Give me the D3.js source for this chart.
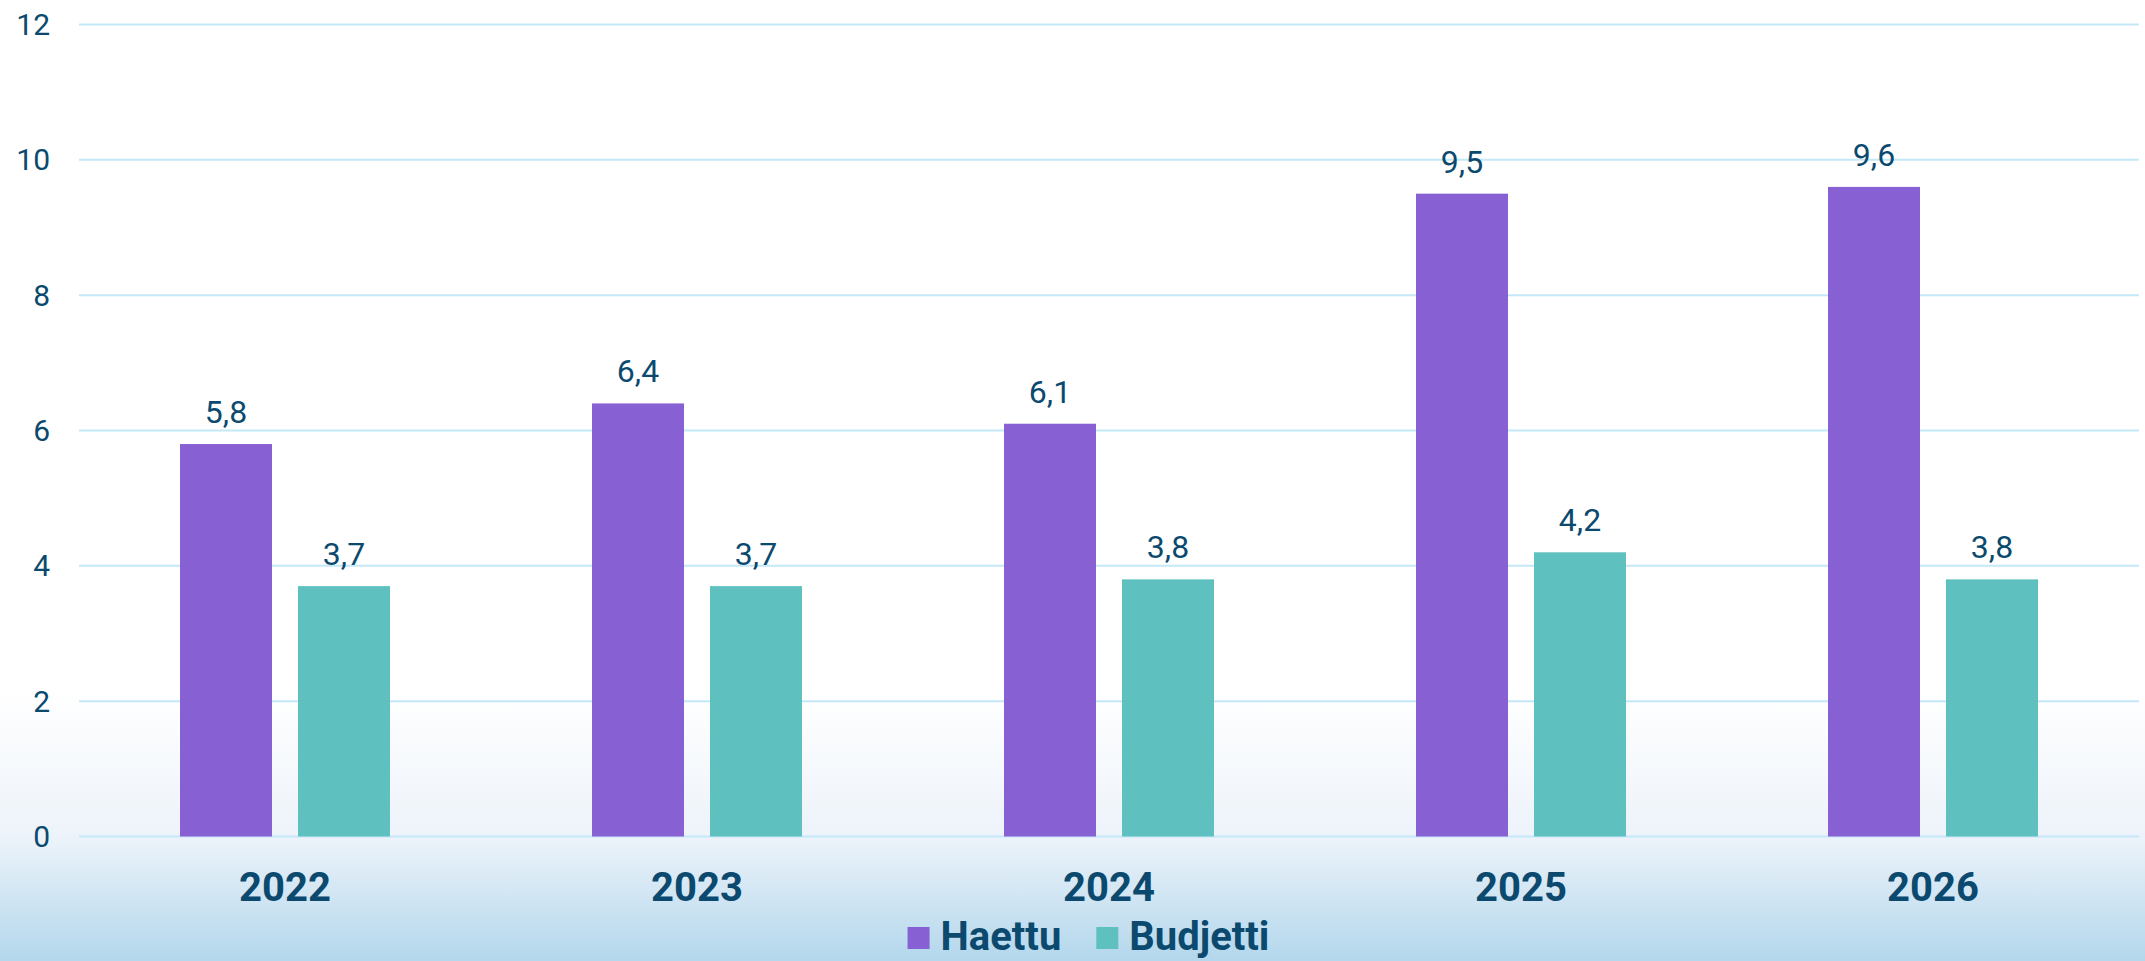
<!DOCTYPE html>
<html>
<head>
<meta charset="utf-8">
<script src="https://cdn.jsdelivr.net/npm/d3@7"></script>
<style>
  html, body { margin: 0; padding: 0; background: #fff; }
  svg { display: block; font-family: Roboto, "Noto Sans", sans-serif; }
</style>
</head>
<body>
<svg id="chart" width="2145" height="961"></svg>
<script>
const years = ["2022", "2023", "2024", "2025", "2026"];
const seriesNames = ["Haettu", "Budjetti"];
const haettu = [5.8, 6.4, 6.1, 9.5, 9.6];
const budjetti = [3.7, 3.7, 3.8, 4.2, 3.8];
const yTicks = [0, 2, 4, 6, 8, 10, 12];
const colors = ["#8760d3", "#5ec0bf"];

const W = 2145, H = 961;
const textColor = "#0b4a6e";
const gridColor = "#c4e8f8";
const svg = d3.select("#chart");

// background gradient
const defs = svg.append("defs");
const grad = defs.append("linearGradient").attr("id", "bg").attr("x1", 0).attr("y1", 0).attr("x2", 0).attr("y2", 1);
grad.append("stop").attr("offset", "0.72").attr("stop-color", "#ffffff");
grad.append("stop").attr("offset", "0.87").attr("stop-color", "#edf3fa");
grad.append("stop").attr("offset", "1").attr("stop-color", "#b3d7ec");
svg.append("rect").attr("width", W).attr("height", H).attr("fill", "url(#bg)");

const x0 = d3.scaleBand().domain(years).range([79, 2139]).paddingInner(0).paddingOuter(0);
const x1 = d3.scaleBand().domain(seriesNames).range([0, 210]).paddingInner(26 / 118).paddingOuter(0);
const y = d3.scaleLinear().domain([0, 12]).range([836.5, 24.5]);

// gridlines
svg.append("g").selectAll("line").data(yTicks).join("line")
  .attr("x1", 79).attr("x2", 2139)
  .attr("y1", d => y(d)).attr("y2", d => y(d))
  .attr("stroke", gridColor).attr("stroke-width", 2);

// y tick labels
svg.append("g").selectAll("text").data(yTicks).join("text")
  .attr("x", 50).attr("y", d => y(d)).attr("dy", "0.35em")
  .attr("text-anchor", "end").attr("font-size", 30).attr("fill", textColor)
  .text(d => d);

const fmt = v => d3.format(".1f")(v).replace(".", ",");
const data = years.map((yr, i) => ({ year: yr, vals: [
  { name: seriesNames[0], v: haettu[i], c: colors[0] },
  { name: seriesNames[1], v: budjetti[i], c: colors[1] }
]}));

const groups = svg.append("g").selectAll("g").data(data).join("g")
  .attr("transform", d => `translate(${x0(d.year) + (x0.bandwidth() - 210) / 2},0)`);

groups.selectAll("rect").data(d => d.vals).join("rect")
  .attr("x", d => x1(d.name)).attr("width", x1.bandwidth())
  .attr("y", d => y(d.v)).attr("height", d => y(0) - y(d.v))
  .attr("fill", d => d.c);

groups.selectAll("text.val").data(d => d.vals).join("text")
  .attr("class", "val")
  .attr("x", d => x1(d.name) + x1.bandwidth() / 2)
  .attr("y", d => y(d.v) - 21)
  .attr("text-anchor", "middle").attr("font-size", 32).attr("fill", textColor)
  .text(d => fmt(d.v));

// x axis labels
svg.append("g").selectAll("text").data(years).join("text")
  .attr("x", d => x0(d) + x0.bandwidth() / 2).attr("y", 901)
  .attr("text-anchor", "middle").attr("font-size", 40).attr("font-weight", "bold")
  .attr("fill", textColor).text(d => d);

// legend
const legend = svg.append("g");
let cx = 0;
seriesNames.forEach((n, i) => {
  const g = legend.append("g");
  g.append("rect").attr("x", 0).attr("y", 927).attr("width", 22).attr("height", 22).attr("fill", colors[i]);
  const t = g.append("text").attr("x", 33).attr("y", 950).attr("font-size", 40).attr("font-weight", "bold")
    .attr("fill", textColor).text(n);
  const w = 33 + t.node().getComputedTextLength();
  g.attr("transform", `translate(${cx},0)`);
  cx += w + 35;
});
const totalW = cx - 35;
legend.attr("transform", `translate(${1088.5 - totalW / 2},0)`);
</script>
</body>
</html>
